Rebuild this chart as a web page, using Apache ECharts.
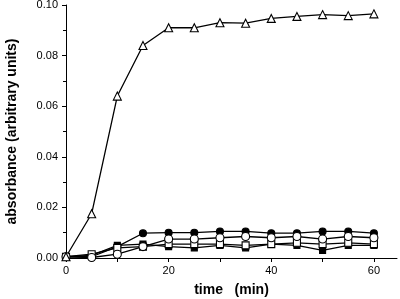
<!DOCTYPE html>
<html><head><meta charset="utf-8">
<script src="https://cdn.jsdelivr.net/npm/echarts@6/dist/echarts.min.js"></script>
<style>html,body{margin:0;padding:0;background:#fff}#c{width:400px;height:299px}</style>
</head><body><div id="c"></div>
<script>
const times = [0,5,10,15,20,25,30,35,40,45,50,55,60];
const triangleOpen = [0.0005,0.0175,0.064,0.084,0.091,0.091,0.093,0.0928,0.0947,0.0955,0.0962,0.0958,0.0965];
const circleFilled = [0.0005,0.0005,0.0045,0.0098,0.010,0.010,0.0105,0.0105,0.0098,0.0098,0.0105,0.0105,0.0098];
const circleOpen   = [0.0005,0.0002,0.0015,0.0045,0.0075,0.0075,0.008,0.0085,0.008,0.0085,0.0075,0.0085,0.008];
const squareFilled = [0.0005,0.001,0.005,0.0055,0.0045,0.004,0.005,0.004,0.0055,0.005,0.003,0.005,0.005];
const squareOpen   = [0.0005,0.0015,0.004,0.0045,0.0055,0.0055,0.0055,0.005,0.0055,0.006,0.0055,0.006,0.0055];
const xLabels = [0,20,40,60];
const xTicks = [0,10,20,30,40,50,60];

const font = 'Liberation Sans, Arial, sans-serif';
function mk(data, symbol, filled, size){
  return {type:'line', data: times.map((t,i)=>[t,data[i]]), symbol, symbolSize:size,
    lineStyle:{color:'#000',width:1.3}, itemStyle:{color: filled?'#000':'#fff', borderColor:'#000', borderWidth:1.1},
    showAllSymbol:true, animation:false, z: filled?3:4};
}
const chart = echarts.init(document.getElementById('c'));
chart.setOption({
  animation:false,
  grid:{left:66,right:3,top:5,bottom:41,containLabel:false,outerBoundsMode:'none'},
  xAxis:{type:'value',min:0,max:64.5,
    axisLine:{lineStyle:{color:'#000',width:1}},
    axisTick:{customValues:xTicks,length:4,lineStyle:{color:'#000'}},
    axisLabel:{customValues:xLabels,color:'#000',fontFamily:font,fontSize:11,margin:7},
    splitLine:{show:false},
    name:'time   (min)',nameLocation:'middle',nameGap:25,
    nameTextStyle:{color:'#000',fontFamily:font,fontSize:14,fontWeight:'bold'}},
  yAxis:{type:'value',min:0,max:0.10,interval:0.02,
    axisLine:{show:true,lineStyle:{color:'#000',width:1}},
    axisTick:{show:true,length:4,lineStyle:{color:'#000'}},
    minorTick:{show:true,splitNumber:2,length:3,lineStyle:{color:'#000'}},
    axisLabel:{color:'#000',fontFamily:font,fontSize:11,margin:8,formatter:v=>v.toFixed(2)},
    splitLine:{show:false},
    name:'absorbance (arbitrary units)',nameLocation:'middle',nameGap:47,
    nameTextStyle:{color:'#000',fontFamily:font,fontSize:14,fontWeight:'bold'}},
  series:[
    mk(squareFilled,'rect',true,6),
    mk(circleFilled,'circle',true,7),
    mk(squareOpen,'rect',false,7),
    mk(circleOpen,'circle',false,8),
    mk(triangleOpen,'triangle',false,8)
  ]
});
</script></body></html>
